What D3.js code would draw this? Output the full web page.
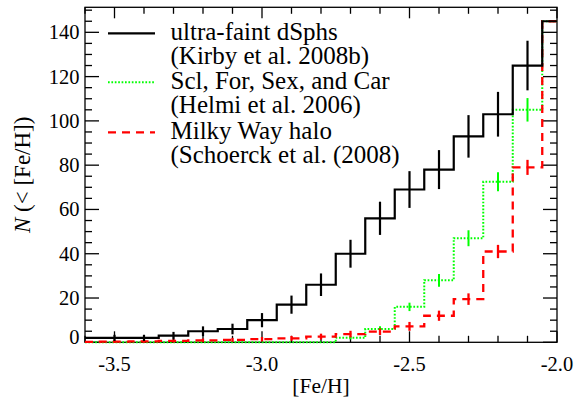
<!DOCTYPE html>
<html><head><meta charset="utf-8"><script src="https://cdn.jsdelivr.net/npm/d3@7"></script></head>
<body style="margin:0">
<svg id="s" width="575" height="400"></svg>
<script>
// ---- data ----
const feh = [-3.6, -3.5, -3.4, -3.3, -3.2, -3.1, -3.0, -2.9, -2.8, -2.7, -2.6, -2.5, -2.4, -2.3, -2.2, -2.1, -2.0];
const ufd    = [2, 2, 2, 3, 5, 6, 10, 17, 26, 40, 56, 69, 78, 93, 103, 125, 145];
const ufdErr = [0, 1.4, 1.4, 1.7, 2.2, 2.4, 3.2, 4.1, 5.1, 6.3, 7.5, 8.3, 8.8, 9.6, 10.1, 11.2, 0];
const dsph    = [0, 0, 0, 0, 0, 0, 0, 0, 0, 2, 6, 16, 28, 47, 72.5, 105, 145];
const dsphErr = [0, 0, 0, 0, 0, 0, 0, 0, 0, 0.7, 1.3, 1.9, 2.9, 3.6, 4.3, 5.3, 0];
const halo    = [0.2, 0.3, 0.4, 0.6, 0.9, 1.1, 1.4, 1.8, 2.6, 3.7, 4.8, 7.2, 12, 19.5, 41, 79, 145];
const haloErr = [0, 0.5, 0.6, 0.7, 0.8, 0.9, 1.0, 1.1, 1.3, 1.5, 1.5, 2.0, 2.3, 2.6, 3.0, 3.4, 0];
const xTickLabels = ["-3.5", "-3.0", "-2.5", "-2.0"];
const xMajor = [-3.5, -3.0, -2.5, -2.0];
const yMajor = [0, 20, 40, 60, 80, 100, 120, 140];
const legendLabels = [
  ["ultra-faint dSphs", "(Kirby et al. 2008b)"],
  ["Scl, For, Sex, and Car", "(Helmi et al. 2006)"],
  ["Milky Way halo", "(Schoerck et al. (2008)"]
];

// ---- layout ----
const FONT = "Liberation Serif";
const L = 85, R = 557, T = 7.3, B = 342.3;
const svg = d3.select("#s");
const x = d3.scaleLinear().domain([-3.6, -2.0]).range([L, R]);
const y = d3.scaleLinear().domain([0, 151.3]).range([B, T]);

const styles = [
  { color: "#000000", width: 2.2, dash: null },
  { color: "#00ff00", width: 2.0, dash: "1.7,1.7" },
  { color: "#ff0000", width: 2.3, dash: "8,6" }
];

function addText(parent) {
  return parent.append("text")
    .attr("font-family", FONT)
    .style("font-family", FONT, "important");
}

// ---- axes (frame + ticks) ----
const ax = svg.append("g").attr("stroke", "#000").attr("stroke-width", 1.3).attr("fill", "none");
ax.append("rect").attr("x", L).attr("y", T).attr("width", R - L).attr("height", B - T);

const xMinor = d3.range(0, 17).map(i => -3.6 + i * 0.1);
xMinor.forEach(v => {
  const isMaj = xMajor.some(m => Math.abs(m - v) < 1e-6);
  const len = isMaj ? 11 : 6.5;
  ax.append("line").attr("x1", x(v)).attr("x2", x(v)).attr("y1", B).attr("y2", B - len);
  ax.append("line").attr("x1", x(v)).attr("x2", x(v)).attr("y1", T).attr("y2", T + len);
});
d3.range(0, 151, 5).forEach(v => {
  const isMaj = v % 20 === 0;
  const len = isMaj ? 14 : 7;
  ax.append("line").attr("x1", L).attr("x2", L + len).attr("y1", y(v)).attr("y2", y(v));
  ax.append("line").attr("x1", R).attr("x2", R - len).attr("y1", y(v)).attr("y2", y(v));
});

// tick labels
xMajor.forEach((d, i) => {
  addText(svg).attr("x", x(d)).attr("y", 371)
    .attr("text-anchor", "middle").attr("font-size", 20.5)
    .text(xTickLabels[i]);
});
yMajor.forEach(d => {
  addText(svg).attr("x", 79.5).attr("y", y(d) - (d === 0 ? 5.5 : 0) + 7)
    .attr("text-anchor", "end").attr("font-size", 20.5)
    .text(String(d));
});

// axis titles
addText(svg).attr("x", (L + R) / 2).attr("y", 393)
  .attr("text-anchor", "middle").attr("font-size", 21.5).text("[Fe/H]");
const yt = addText(svg)
  .attr("transform", `translate(30,${(T + B) / 2}) rotate(-90)`)
  .attr("text-anchor", "middle").attr("font-size", 23);
yt.append("tspan").style("font-family", FONT, "important").style("font-style", "italic").text("N");
yt.append("tspan").style("font-family", FONT, "important").text(" (< [Fe/H])");

// ---- series ----
const line = d3.line().x((d, i) => x(feh[i])).y(d => y(d)).curve(d3.curveStep);
const series = [
  { vals: dsph, errs: dsphErr, st: styles[1] },
  { vals: halo, errs: haloErr, st: styles[2] },
  { vals: ufd, errs: ufdErr, st: styles[0] }
];
const plot = svg.append("g");
series.forEach(s => {
  plot.append("path").datum(s.vals)
    .attr("d", line).attr("fill", "none")
    .attr("stroke", s.st.color).attr("stroke-width", s.st.width)
    .attr("stroke-dasharray", s.st.dash);
  plot.append("g").selectAll("line")
    .data(s.vals.map((v, i) => ({ v, e: s.errs[i], f: feh[i] })).filter(d => d.e > 0))
    .join("line")
    .attr("x1", d => x(d.f)).attr("x2", d => x(d.f))
    .attr("y1", d => y(d.v - d.e)).attr("y2", d => y(d.v + d.e))
    .attr("stroke", s.st.color).attr("stroke-width", s.st.width);
});

// ---- legend ----
const legY = [33.3, 82.3, 132.3];
legendLabels.forEach((lbl, i) => {
  const st = styles[i];
  svg.append("line").attr("x1", 108).attr("x2", 155)
    .attr("y1", legY[i]).attr("y2", legY[i])
    .attr("stroke", st.color).attr("stroke-width", st.width)
    .attr("stroke-dasharray", st.dash);
  addText(svg).attr("x", 170.5).attr("y", legY[i] + 6.2)
    .attr("font-size", 25).text(lbl[0]);
  addText(svg).attr("x", 170.5).attr("y", legY[i] + 6.2 + 24.7)
    .attr("font-size", 25).text(lbl[1]);
});
</script>
</body>
</html>
